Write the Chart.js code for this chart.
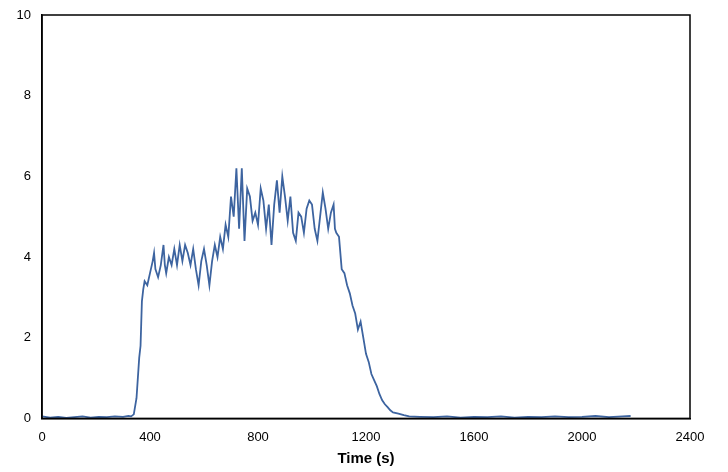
<!DOCTYPE html>
<html><head><meta charset="utf-8">
<script src="https://cdn.jsdelivr.net/npm/chart.js@4/dist/chart.umd.min.js"></script>
<style>html,body{margin:0;background:#fff}#wrap{width:728px;height:472px}</style>
</head><body><div id="wrap"><canvas id="c"></canvas></div>
<script>
const times = [0,30,60,90,120,150,180,210,240,270,300,320,330,340,350,360,365,370,375,380,390,400,410,415,420,430,440,450,455,460,470,480,490,500,510,520,530,540,550,560,570,580,590,600,610,620,630,640,650,660,670,680,690,700,710,720,730,740,750,760,770,780,790,800,810,820,830,840,850,860,870,880,890,900,910,920,930,940,950,960,970,980,990,1000,1010,1020,1030,1040,1050,1060,1070,1080,1085,1090,1100,1110,1120,1130,1140,1150,1160,1170,1180,1190,1200,1210,1220,1230,1240,1250,1260,1270,1280,1290,1300,1320,1340,1360,1400,1450,1500,1550,1600,1650,1700,1750,1800,1850,1900,1950,2000,2050,2100,2150,2180];
const values = [0.05,0.02,0.04,0.01,0.03,0.05,0.02,0.04,0.03,0.05,0.04,0.06,0.05,0.1,0.5,1.5,1.8,2.9,3.2,3.4,3.3,3.6,3.9,4.1,3.7,3.5,3.8,4.3,3.8,3.6,4.0,3.8,4.2,3.8,4.3,3.9,4.3,4.1,3.8,4.2,3.7,3.3,3.9,4.2,3.8,3.3,3.9,4.3,4.0,4.5,4.2,4.8,4.5,5.5,5.0,6.2,4.7,6.2,4.4,5.7,5.5,4.9,5.1,4.8,5.7,5.4,4.7,5.3,4.3,5.3,5.9,5.1,6.0,5.5,4.9,5.5,4.6,4.4,5.1,5.0,4.6,5.2,5.4,5.3,4.7,4.4,5.0,5.6,5.2,4.7,5.1,5.3,4.7,4.6,4.5,3.7,3.6,3.3,3.1,2.8,2.6,2.2,2.4,2.0,1.6,1.4,1.1,0.95,0.8,0.6,0.45,0.35,0.28,0.2,0.15,0.12,0.08,0.05,0.04,0.03,0.05,0.02,0.04,0.03,0.05,0.02,0.04,0.03,0.05,0.03,0.04,0.06,0.03,0.05,0.06];
const xTicks = [0,400,800,1200,1600,2000,2400];

new Chart(document.getElementById('c'), {
  type: 'scatter',
  data: {
    datasets: [{
      data: times.map((t, i) => ({x: t, y: values[i]})),
      showLine: true,
      borderColor: '#3d64a0',
      borderWidth: 1.8,
      pointRadius: 0,
      tension: 0
    }]
  },
  options: {
    responsive: true,
    maintainAspectRatio: false,
    animation: false,
    layout: {padding: {top: 15, right: 38, bottom: 0, left: 0}},
    plugins: {legend: {display: false}, tooltip: {enabled: false}},
    scales: {
      x: {
        type: 'linear', min: 0, max: 2400,
        afterBuildTicks: ax => { ax.ticks = xTicks.map(v => ({value: v})); },
        grid: {display: false},
        border: {color: '#000', width: 1.5},
        ticks: {color: '#000', font: {family: 'Liberation Sans', size: 13}, maxRotation: 0, callback: v => String(v)},
        title: {display: true, text: 'Time (s)', color: '#000', font: {family: 'Liberation Sans', size: 15, weight: 'bold'}, padding: {top: 2}}
      },
      y: {
        min: 0, max: 10,
        afterFit: ax => { ax.width = 42; },
        grid: {display: false},
        border: {color: '#000', width: 1.5},
        ticks: {stepSize: 2, color: '#000', font: {family: 'Liberation Sans', size: 13}}
      }
    }
  },
  plugins: [{
    id: 'box',
    afterDraw(chart) {
      const {ctx, chartArea: a} = chart;
      ctx.save();
      ctx.strokeStyle = '#000';
      ctx.lineWidth = 1.5;
      ctx.strokeRect(a.left, a.top, a.right - a.left, a.bottom - a.top);
      ctx.restore();
    }
  }]
});
</script></body></html>
